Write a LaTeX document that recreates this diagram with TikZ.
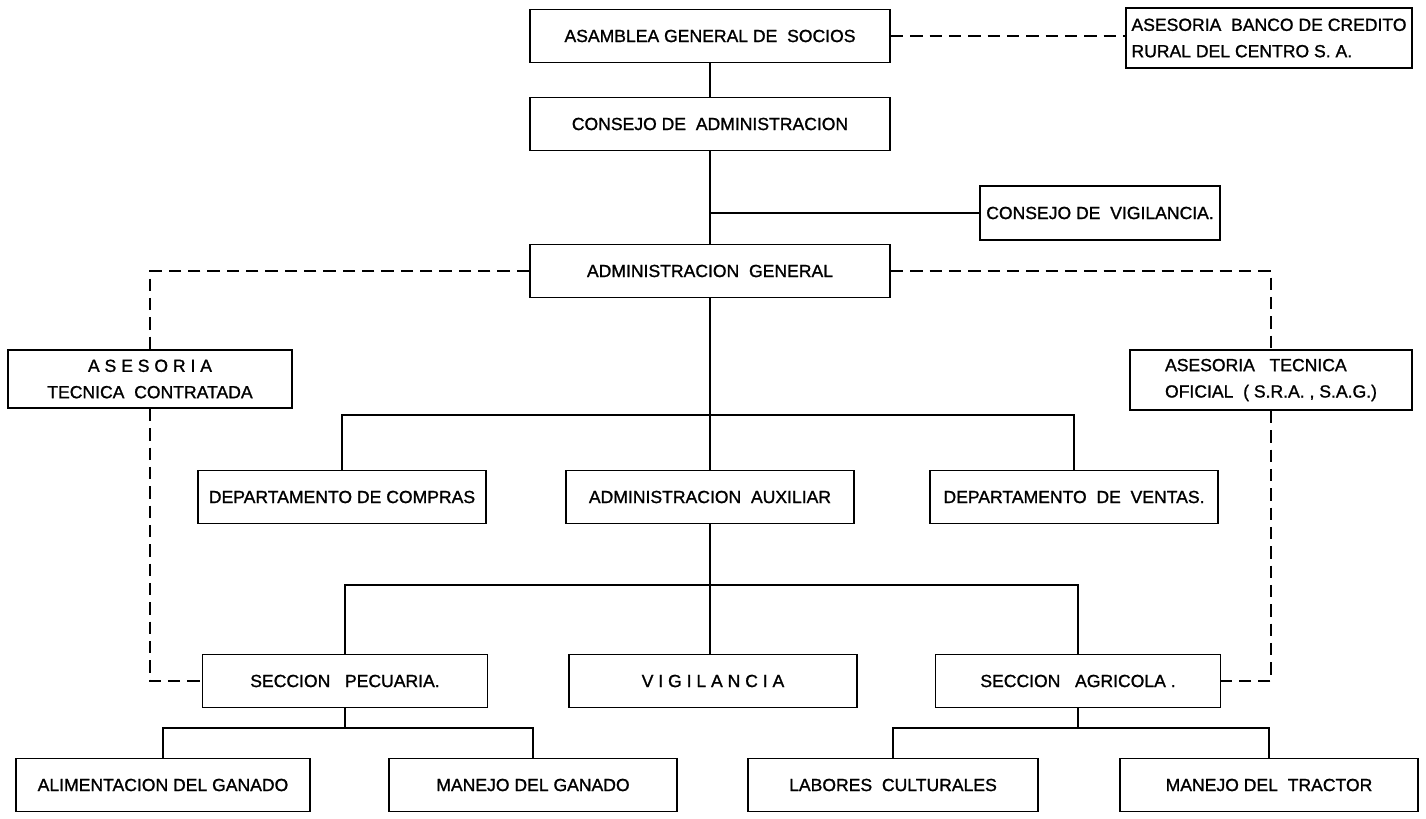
\documentclass[tikz,border=0pt]{standalone}
\usepackage{fontspec}
\newfontfamily\lettering[FakeBold=1.2]{Liberation Sans}
\usetikzlibrary{positioning}

\begin{document}
\begin{tikzpicture}[
    unit/.style={draw, line width=1.1pt, minimum height=1.06cm, align=center,
                 font=\fontsize{10}{15}\selectfont\lettering},
    wideunit/.style={unit, minimum width=7.2cm},
    midunit/.style={unit, minimum width=5.75cm},
    link/.style={line width=1.1pt},
    advice/.style={line width=1.1pt, dash pattern=on 7pt off 4pt},
]
\useasboundingbox (0,0) rectangle (28.52,-16.36);

% --- Row heights ---
\def\rowA{-9.94}
\def\rowB{-13.62}
\def\rowC{-15.7}

% ======= TOP =======
\node[wideunit] (asamblea) at (14.2,-0.72) {ASAMBLEA GENERAL DE\ \ SOCIOS};
\node[unit, minimum width=5.64cm, minimum height=1.2cm, align=left] (banco) at (25.38,-0.76)
    {ASESORIA\ \ BANCO DE CREDITO\\RURAL DEL CENTRO S. A.};
\node[wideunit] (consejo) at (14.2,-2.48) {CONSEJO DE\ \ ADMINISTRACION};
\node[unit, minimum width=4.2cm, minimum height=1.08cm] (cvig) at (22.0,-4.26) {CONSEJO DE\ \ VIGILANCIA.};
\node[wideunit] (admgen) at (14.2,-5.42) {ADMINISTRACION\ \ GENERAL};

% ======= ADVISORS =======
\node[unit, minimum width=5.68cm, minimum height=1.16cm] (contratada) at (3.0,-7.58)
    {A S E S O R I A\\TECNICA\ \ CONTRATADA};
\node[unit, minimum width=5.64cm, minimum height=1.2cm, align=left] (oficial) at (25.42,-7.6)
    {ASESORIA\ \ \ TECNICA\\OFICIAL\ \ ( S.R.A. ,\ S.A.G.)};

% ======= DEPARTMENTS =======
\node[midunit] (compras) at (6.84,\rowA) {DEPARTAMENTO DE COMPRAS};
\node[midunit] (auxiliar) at (14.2,\rowA) {ADMINISTRACION\ \ AUXILIAR};
\node[midunit] (ventas) at (21.48,\rowA) {DEPARTAMENTO\ \ DE\ \ VENTAS.};

% ======= SECTIONS =======
\node[midunit, minimum width=5.7cm] (pecuaria) at (6.9,\rowB) {SECCION\ \ \ PECUARIA.};
\node[midunit] (vigil) at (14.26,\rowB) {V I G I L A N C I A};
\node[midunit, minimum width=5.7cm] (agricola) at (21.56,\rowB) {SECCION\ \ \ AGRICOLA .};

% ======= WORK UNITS =======
\node[midunit, minimum width=5.88cm] (alimento) at (3.26,\rowC) {ALIMENTACION DEL GANADO};
\node[midunit] (ganado) at (10.66,\rowC) {MANEJO DEL GANADO};
\node[midunit, minimum width=5.8cm] (labores) at (17.86,\rowC) {LABORES\ \ CULTURALES};
\node[midunit, minimum width=5.96cm] (tractor) at (25.38,\rowC) {MANEJO DEL\ \ TRACTOR};

% ======= BUS POINTS =======
\coordinate (busA) at (14.2,-8.3);
\coordinate (busB) at (14.2,-11.7);
\coordinate (busC) at (6.9,-14.56);
\coordinate (busD) at (21.56,-14.56);

% ======= SOLID LINES =======
\draw[link] (asamblea) -- (consejo);
\draw[link] (consejo) -- (admgen);
\draw[link] (consejo |- cvig) -- (cvig);
\draw[link] (admgen) -- (busA);
\draw[link] (compras.north) |- (busA) -| (ventas.north);
\draw[link] (busA) -- (auxiliar);
\draw[link] (auxiliar) -- (busB);
\draw[link] (pecuaria.north) |- (busB) -| (agricola.north);
\draw[link] (busB) -- (busB |- vigil.north);
\draw[link] (pecuaria) -- (busC);
\draw[link] (alimento.north) |- (busC) -| (ganado.north);
\draw[link] (agricola) -- (busD);
\draw[link] (labores.north) |- (busD) -| (tractor.north);

% ======= DASHED LINES =======
\draw[advice] (asamblea.east) -- (asamblea.east -| banco.west);
\draw[advice] (admgen.west) -| (contratada.north);
\draw[advice] (admgen.east) -| (oficial.north);
\draw[advice] (contratada.south) |- (pecuaria.west);
\draw[advice] (oficial.south) |- (agricola.east);

\end{tikzpicture}
\end{document}
